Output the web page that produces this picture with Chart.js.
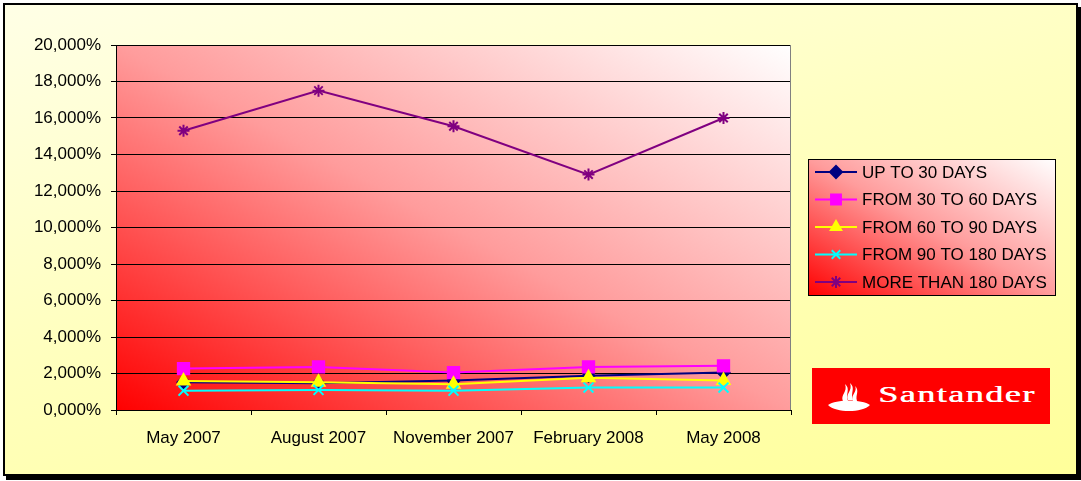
<!DOCTYPE html>
<html lang="en">
<head>
<meta charset="UTF-8">
<title>Morosidad por tramos</title>
<script src="https://cdn.jsdelivr.net/npm/chart.js"></script>
<style>
  body { margin: 0; width: 1081px; height: 481px; overflow: hidden; background: #ffffff; font-family: "Liberation Sans", Arial, sans-serif; }
  .marco {
    position: absolute; left: 3px; top: 3px; width: 1071px; height: 469px;
    border: 2px solid #000; box-shadow: 3px 4px 0 #000;
    background: linear-gradient(165deg, #ffffe6 0%, #ffffc0 45%, #ffff9a 100%);
  }
  .caja_grafico { position: absolute; left: 0; top: 0; width: 1081px; height: 481px; }
  .logo_santander {
    position: absolute; left: 812px; top: 368px; width: 238px; height: 56px;
    background: #ff0000; overflow: hidden;
  }
  .logo_santander svg { position: absolute; left: 14px; top: 12px; }
  .logo_santander span {
    position: absolute; left: 66px; top: 13px; color: #fff;
    font-family: "Liberation Serif", "DejaVu Serif", serif; font-size: 24px;
    letter-spacing: 1px; transform: scaleX(1.5); transform-origin: left center;
    text-shadow: 0.5px 0 0 #fff;
  }
</style>
</head>
<body>
  <div class="marco"></div>
  <div class="caja_grafico"><canvas id="grafico_morosidad"></canvas></div>
  <div class="logo_santander">
    <svg width="48" height="32" viewBox="0 0 48 32">
      <path d="M2 25 C10 19, 36 19, 44 25 C36 33, 10 33, 2 25 Z" fill="#fff"/>
      <path d="M17 21 C14 15, 22 12, 19 4 C25 9, 19 14, 22 21 Z" fill="#fff"/>
      <path d="M22 20 C19 14, 27 11, 24 3 C30 8, 24 13, 27 20 Z" fill="#fff"/>
      <path d="M27 21 C24 15, 32 12, 29 6 C34 11, 29 15, 31 21 Z" fill="#fff"/>
    </svg>
    <span>Santander</span>
  </div>
<script>
// datos (porcentajes)
const categorias = ['May 2007', 'August 2007', 'November 2007', 'February 2008', 'May 2008'];
const hasta30 = [1.52, 1.47, 1.61, 1.87, 2.05];
const de30a60 = [2.27, 2.36, 2.05, 2.36, 2.42];
const de60a90 = [1.59, 1.52, 1.41, 1.77, 1.61];
const de90a180 = [1.06, 1.10, 1.06, 1.23, 1.23];
const masDe180 = [15.30, 17.50, 15.55, 12.90, 16.00];
const nombresSeries = ['UP TO 30 DAYS', 'FROM 30 TO 60 DAYS', 'FROM 60 TO 90 DAYS', 'FROM 90 TO 180 DAYS', 'MORE THAN 180 DAYS'];
const ticksY = [0, 2, 4, 6, 8, 10, 12, 14, 16, 18, 20];

const fuente = '"Liberation Sans", Arial, sans-serif';

function serie(i, datos, color, marcador, radio, orden) {
  return {
    label: nombresSeries[i],
    data: datos,
    borderColor: color,
    backgroundColor: color,
    borderWidth: 2,
    pointStyle: marcador,
    pointRadius: radio,
    pointBorderColor: color,
    pointBackgroundColor: color,
    pointBorderWidth: 2,
    tension: 0,
    order: orden
  };
}

// degradado tipo Excel: rojo abajo-izquierda, blanco arriba-derecha
function degradado(ctx, x, y, w, h) {
  const cx = x + w / 2, cy = y + h / 2;
  const k = (w * h) / (w * w + h * h);
  const g = ctx.createLinearGradient(cx - k * h, cy + k * w, cx + k * h, cy - k * w);
  g.addColorStop(0, '#ff0000');
  g.addColorStop(0.5, '#ff9c9c');
  g.addColorStop(1, '#ffffff');
  return g;
}

const fondoTrazado = {
  id: 'fondoTrazado',
  beforeDraw(chart) {
    const { ctx, chartArea: a } = chart;
    ctx.save();
    ctx.fillStyle = degradado(ctx, a.left, a.top, a.right - a.left, a.bottom - a.top);
    ctx.fillRect(a.left, a.top, a.right - a.left, a.bottom - a.top);
    ctx.restore();
  },
  beforeDatasetsDraw(chart) {
    const { ctx, chartArea: a } = chart;
    ctx.save();
    ctx.strokeStyle = '#808080';
    ctx.lineWidth = 1;
    ctx.beginPath();
    ctx.moveTo(a.right - 0.5, a.top);
    ctx.lineTo(a.right - 0.5, a.bottom);
    ctx.stroke();
    ctx.restore();
  }
};

function marcador(ctx, estilo, color, x, y, r) {
  if (Chart.helpers && Chart.helpers.drawPoint) {
    ctx.fillStyle = color;
    ctx.strokeStyle = color;
    ctx.lineWidth = 2;
    Chart.helpers.drawPoint(ctx, { pointStyle: estilo, radius: r, borderWidth: 2 }, x, y);
  }
}

// leyenda dibujada a mano para copiar la caja de Excel
const leyendaCaja = {
  id: 'leyendaCaja',
  afterDraw(chart) {
    const { ctx } = chart;
    const x0 = 808, y0 = 159, w = 248, h = 137;
    ctx.save();
    ctx.fillStyle = degradado(ctx, x0, y0, w, h);
    ctx.fillRect(x0, y0, w, h);
    ctx.strokeStyle = '#000';
    ctx.lineWidth = 1;
    ctx.strokeRect(x0 + 0.5, y0 + 0.5, w - 1, h - 1);
    ctx.font = '17px ' + fuente;
    ctx.textBaseline = 'middle';
    chart.data.datasets.forEach((ds, i) => {
      const y = 172 + i * 27.5;
      ctx.strokeStyle = ds.borderColor;
      ctx.lineWidth = 2;
      ctx.beginPath();
      ctx.moveTo(815, y);
      ctx.lineTo(857, y);
      ctx.stroke();
      marcador(ctx, ds.pointStyle, ds.borderColor, 836, y, ds.pointStyle === 'rect' ? 7 : 6);
      ctx.fillStyle = '#000';
      ctx.fillText(ds.label, 862, y + 1);
    });
    ctx.restore();
  }
};

new Chart(document.getElementById('grafico_morosidad'), {
  type: 'line',
  data: {
    labels: categorias,
    datasets: [
      serie(0, hasta30, '#000080', 'rectRot', 6, 5),
      serie(1, de30a60, '#ff00ff', 'rect', 8, 4),
      serie(2, de60a90, '#ffff00', 'triangle', 7, 3),
      serie(3, de90a180, '#00ffff', 'crossRot', 7, 2),
      serie(4, masDe180, '#800080', 'star', 6, 1)
    ]
  },
  options: {
    responsive: true,
    maintainAspectRatio: false,
    animation: false,
    layout: { padding: { left: 0, top: 45, right: 290, bottom: 0 } },
    plugins: {
      legend: { display: false },
      tooltip: { enabled: false }
    },
    scales: {
      x: {
        offset: true,
        afterFit(s) { s.height = 71; },
        grid: { drawOnChartArea: false, offset: true, color: '#000', tickLength: 5 },
        border: { color: '#000', width: 1 },
        ticks: { color: '#000', padding: 13, font: { family: fuente, size: 17 }, maxRotation: 0 }
      },
      y: {
        min: 0,
        max: 20,
        afterFit(s) { s.width = 116; },
        afterBuildTicks(s) { s.ticks = ticksY.map(v => ({ value: v })); },
        grid: { color: '#000', tickLength: 5, lineWidth: 1 },
        border: { color: '#000', width: 1 },
        ticks: {
          color: '#000', padding: 10, font: { family: fuente, size: 17 },
          callback: v => v.toFixed(3).replace('.', ',') + '%'
        }
      }
    }
  },
  plugins: [fondoTrazado, leyendaCaja]
});
</script>
</body>
</html>
